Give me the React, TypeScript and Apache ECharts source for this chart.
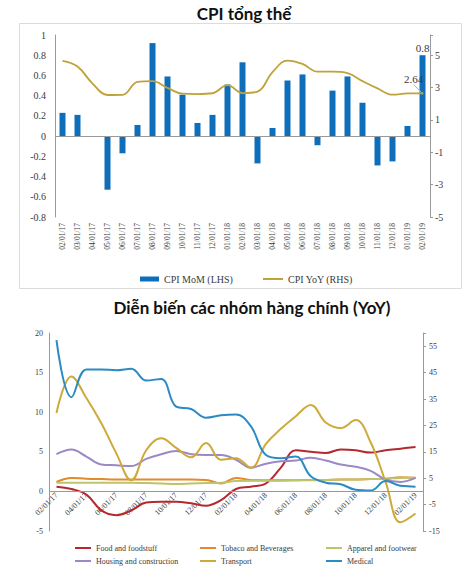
import React, { useEffect, useRef } from 'react';
import * as echarts from 'echarts';

const months = ['02/01/17', '03/01/17', '04/01/17', '05/01/17', '06/01/17', '07/01/17', '08/01/17', '09/01/17', '10/01/17', '11/01/17', '12/01/17', '01/01/18', '02/01/18', '03/01/18', '04/01/18', '05/01/18', '06/01/18', '07/01/18', '08/01/18', '09/01/18', '10/01/18', '11/01/18', '12/01/18', '01/01/19', '02/01/19'];

// Top chart
const cpiMoM = [0.23, 0.21, 0.0, -0.53, -0.17, 0.11, 0.92, 0.59, 0.41, 0.13, 0.21, 0.51, 0.73, -0.27, 0.08, 0.55, 0.61, -0.09, 0.45, 0.59, 0.33, -0.29, -0.25, 0.1, 0.8];
const cpiYoY = [4.65, 4.3, 3.25, 2.54, 2.55, 3.35, 3.4, 2.98, 2.62, 2.6, 2.65, 3.15, 2.66, 2.75, 3.95, 4.67, 4.46, 3.98, 3.98, 3.89, 3.4, 2.95, 2.56, 2.64, 2.64];

// Bottom chart (YoY, %)
const foodFoodstuff = [0.6, 0.3, -0.4, -2.4, -3.0, -2.4, -1.4, -1.3, -1.3, -1.5, -1.8, -1.1, 0.3, 0.6, 1.0, 3.0, 5.2, 5.0, 4.85, 5.3, 5.2, 4.9, 5.2, 5.4, 5.6];
const tobacoBeverages = [1.2, 1.7, 1.6, 1.55, 1.5, 1.5, 1.5, 1.5, 1.5, 1.5, 1.45, 1.0, 1.7, 1.45, 1.4, 1.4, 1.4, 1.45, 1.45, 1.5, 1.5, 1.55, 1.6, 1.8, 1.7];
const apparelFootwear = [1.1, 1.1, 1.1, 1.1, 1.1, 1.1, 1.05, 1.0, 0.95, 1.0, 1.05, 1.1, 1.3, 1.35, 1.35, 1.35, 1.4, 1.4, 1.45, 1.5, 1.5, 1.55, 1.6, 1.7, 1.75];
const housingConstruction = [4.7, 5.3, 4.4, 3.4, 3.3, 3.2, 4.1, 4.7, 5.1, 4.7, 4.6, 4.6, 4.0, 3.0, 3.5, 3.8, 3.9, 4.25, 3.9, 3.4, 3.1, 2.6, 1.5, 1.2, 1.7];
const transport = [9.9, 14.5, 11.8, 8.6, 4.8, 1.4, 5.2, 6.7, 5.5, 4.3, 6.1, 4.0, 4.2, 3.0, 6.0, 7.9, 9.5, 10.9, 8.7, 8.0, 9.0, 6.2, 1.2, -3.9, -2.8];
const medical = [57.3, 35.7, 46.2, 46.2, 45.9, 46.5, 42.0, 42.6, 32.1, 31.2, 27.9, 28.8, 29.1, 24.6, 13.8, 12.6, 13.2, 5.7, 3.3, 2.7, 0.6, 0.3, 3.9, 2.1, 1.8];

const SERIF = '"Liberation Serif", "Times New Roman", serif';
const TXT = '#3a3a3a';
const AX = '#9a9a9a';

export default function App() {
  const ref = useRef<HTMLDivElement>(null);
  useEffect(() => {
    const chart = echarts.init(ref.current as HTMLDivElement, null, { renderer: 'svg' });
    const lastIdx = months.length - 1;
    const lbl = { fontFamily: SERIF, color: TXT };
    const botLegend = (left: number, names: string[]) => ({
      left, top: 539, orient: 'vertical', icon: 'rect', itemWidth: 16, itemHeight: 2, itemGap: 5,
      textStyle: { ...lbl, fontSize: 8 }, data: names,
    });
    const bottomLine = (name: string, color: string, data: number[], yAxisIndex = 2) => ({
      name, type: 'line', xAxisIndex: 1, yAxisIndex, smooth: 0.4, symbol: 'none',
      lineStyle: { color, width: 2 }, itemStyle: { color }, data,
    });
    chart.setOption({
      animation: false,
      backgroundColor: '#ffffff',
      graphic: [
        { type: 'rect', silent: true, z: -10, shape: { x: 19.5, y: 23.5, width: 442, height: 265 }, style: { fill: 'none', stroke: '#dcdcdc', lineWidth: 1 } },
        { type: 'text', x: 244, y: 13, style: { text: 'CPI tổng thể', fontFamily: 'Lato', fontWeight: 'bold', fontSize: 17, align: 'center', verticalAlign: 'middle', fill: '#111' } },
        { type: 'text', x: 252, y: 307, style: { text: 'Diễn biến các nhóm hàng chính (YoY)', fontFamily: 'Lato', fontWeight: 'bold', fontSize: 17, align: 'center', verticalAlign: 'middle', fill: '#111' } },
      ],
      grid: [
        { left: 55, top: 35, width: 375, height: 182 },
        { left: 49, top: 333, width: 374, height: 198 },
      ],
      legend: [
        { left: 135, top: 269, icon: 'rect', itemWidth: 19, itemHeight: 5, textStyle: { ...lbl, fontSize: 10 }, data: ['CPI MoM (LHS)'] },
        { left: 258, top: 269, icon: 'rect', itemWidth: 20, itemHeight: 2, textStyle: { ...lbl, fontSize: 10 }, data: ['CPI YoY (RHS)'] },
        botLegend(70, ['Food and foodstuff', 'Housing and construction']),
        botLegend(195, ['Tobaco and Beverages', 'Transport']),
        botLegend(321, ['Apparel and footwear', 'Medical']),
      ],
      xAxis: [
        {
          gridIndex: 0, type: 'category', data: months,
          axisLine: { show: false, onZero: false }, axisTick: { show: false },
          axisLabel: { ...lbl, fontSize: 7.5, rotate: 90, interval: 0, margin: 6 },
        },
        {
          gridIndex: 1, type: 'category', data: months,
          axisLine: { show: false, onZero: false }, axisTick: { show: false },
          axisLabel: { ...lbl, fontSize: 8, rotate: 45, interval: 1, margin: -37 },
        },
      ],
      yAxis: [
        {
          gridIndex: 0, type: 'value', min: -0.8, max: 1, interval: 0.2,
          axisLine: { show: true, lineStyle: { color: AX } }, axisTick: { show: false }, splitLine: { show: false },
          axisLabel: { ...lbl, fontSize: 10, margin: 9, formatter: (v: number) => String(Number(v.toFixed(1))) },
        },
        {
          gridIndex: 0, type: 'value', position: 'right', min: -5, max: 6.25, interval: 2,
          axisLine: { show: true, lineStyle: { color: AX } }, axisTick: { show: true, length: 3, lineStyle: { color: AX } }, splitLine: { show: false },
          axisLabel: { ...lbl, fontSize: 10, margin: 5, formatter: (v: number) => (v > 6 ? '' : String(v)) },
        },
        {
          gridIndex: 1, type: 'value', min: -5, max: 20, interval: 5,
          axisLine: { show: true, lineStyle: { color: AX } }, axisTick: { show: false }, splitLine: { show: false },
          axisLabel: { ...lbl, fontSize: 8, margin: 6 },
        },
        {
          gridIndex: 1, type: 'value', position: 'right', min: -15, max: 60, interval: 10,
          axisLine: { show: true, lineStyle: { color: AX } }, axisTick: { show: true, length: 3, lineStyle: { color: AX } }, splitLine: { show: false },
          axisLabel: { ...lbl, fontSize: 8, margin: 6, formatter: (v: number) => (v > 56 ? '' : String(v)) },
        },
      ],
      series: [
        {
          name: 'CPI MoM (LHS)', type: 'bar', xAxisIndex: 0, yAxisIndex: 0, barWidth: 6,
          itemStyle: { color: '#0F6EBA' },
          data: cpiMoM.map((v, i) => (i === lastIdx ? { value: v, label: { show: true, position: 'top', distance: 2, ...lbl, fontSize: 11, formatter: (p: any) => String(p.value) } } : v)),
          markLine: { silent: true, symbol: 'none', label: { show: false }, lineStyle: { color: AX, type: 'solid', width: 1 }, data: [{ yAxis: 0 }] },
        },
        {
          name: 'CPI YoY (RHS)', type: 'line', xAxisIndex: 0, yAxisIndex: 1, smooth: 0.4, symbol: 'none', z: 5,
          lineStyle: { color: '#BFA23A', width: 1.8 }, itemStyle: { color: '#BFA23A' },
          labelLayout: { dx: -9, dy: -5 },
          labelLine: { show: true, lineStyle: { color: '#b0b0b0', width: 1 } },
          data: cpiYoY.map((v, i) => (i === lastIdx ? {
            value: v, symbol: 'circle', symbolSize: 2,
            label: { show: true, position: 'top', distance: 3, ...lbl, fontSize: 11, formatter: (p: any) => String(p.value) },
          } : v)),
        },
        {
          ...bottomLine('Food and foodstuff', '#B5282E', foodFoodstuff),
          markLine: { silent: true, symbol: 'none', label: { show: false }, lineStyle: { color: AX, type: 'solid', width: 1 }, data: [{ yAxis: 0 }] },
        },
        bottomLine('Tobaco and Beverages', '#E3892E', tobacoBeverages),
        bottomLine('Apparel and footwear', '#BCC46C', apparelFootwear),
        bottomLine('Housing and construction', '#9C88C4', housingConstruction),
        bottomLine('Transport', '#CDAA3A', transport),
        bottomLine('Medical', '#2B8BC2', medical, 3),
      ],
    });
    return () => chart.dispose();
  }, []);
  return <div ref={ref} style={{ position: 'absolute', left: 0, top: 0, width: 472, height: 570, background: '#fff' }} />;
}
